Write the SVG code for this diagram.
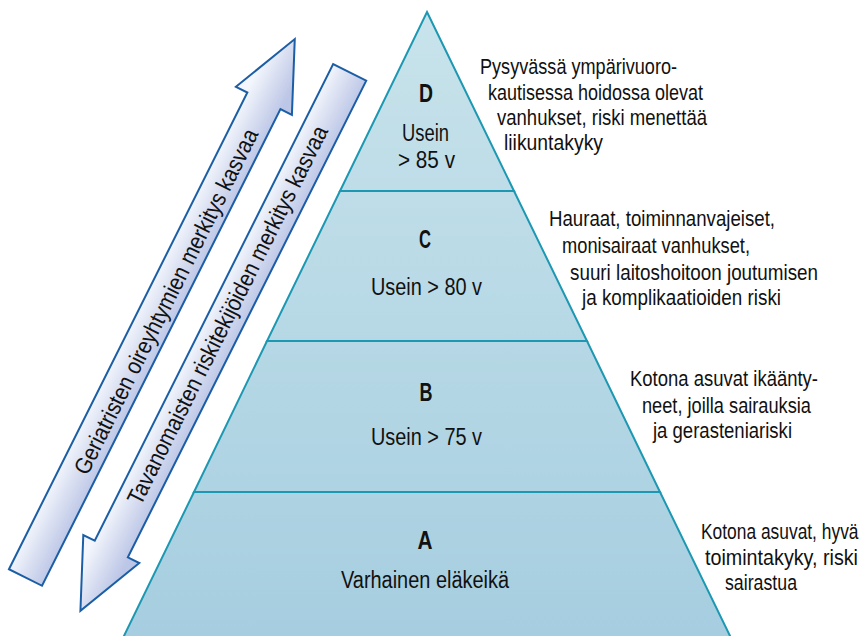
<svg xmlns="http://www.w3.org/2000/svg" width="866" height="636" viewBox="0 0 866 636">
<defs>
<linearGradient id="pyr" gradientUnits="userSpaceOnUse" x1="0" y1="12" x2="0" y2="636">
<stop offset="0" stop-color="#c8e3eb"/>
<stop offset="1" stop-color="#a6cee0"/>
</linearGradient>
<linearGradient id="arrUp" gradientUnits="userSpaceOnUse" x1="0" y1="-20" x2="0" y2="20">
<stop offset="0" stop-color="#f3f6fc"/>
<stop offset="1" stop-color="#bcc6e6"/>
</linearGradient>
<linearGradient id="arrDown" gradientUnits="userSpaceOnUse" x1="0" y1="20" x2="0" y2="-20">
<stop offset="0" stop-color="#f3f6fc"/>
<stop offset="1" stop-color="#bcc6e6"/>
</linearGradient>
<path id="bigArrow" d="M0,-18.5 L533,-18.5 L533,-31.3 L602,0 L533,31.3 L533,18.5 L0,18.5 Z"/>
</defs>
<style>
.lvl{fill:url(#pyr);stroke:#1d98b2;stroke-width:2;stroke-linejoin:miter}
.t{font-family:"Liberation Sans Narrow","Liberation Sans",Arial,sans-serif;font-size:22.5px;fill:#111}
.c{font-size:23px;text-anchor:middle}
.b{font-family:"Liberation Sans Narrow","Liberation Sans",Arial,sans-serif;font-size:25.5px;font-weight:bold;text-anchor:middle;fill:#111}
.arr{stroke:#1b5ea6;stroke-width:2;stroke-linejoin:miter}
.at{font-family:"Liberation Sans Narrow","Liberation Sans",Arial,sans-serif;font-size:23.5px;text-anchor:middle;fill:#111}
</style>

<g id="connectors">
<g id="arrow-geriatric">
<use href="#bigArrow" class="arr" fill="url(#arrUp)" transform="translate(25.5,577.5) rotate(-63.43)"/>
<text class="at" transform="translate(166,301.5) rotate(-63.43)" x="0" y="8" textLength="383" lengthAdjust="spacingAndGlyphs">Geriatristen oireyhtymien merkitys kasvaa</text>
</g>
<g id="arrow-risk">
<use href="#bigArrow" class="arr" fill="url(#arrDown)" transform="translate(349.7,72.3) rotate(116.57)"/>
<text class="at" transform="translate(227.5,315) rotate(-63.43)" x="0" y="8" textLength="420" lengthAdjust="spacingAndGlyphs">Tavanomaisten riskitekijöiden merkitys kasvaa</text>
</g>
</g>

<g id="level-A">
<polygon class="lvl" points="194,492 660,492 732,640 122,640"/>
<text class="b" x="425" y="549" textLength="15" lengthAdjust="spacingAndGlyphs">A</text>
<text class="t c" x="425" y="588" textLength="168" lengthAdjust="spacingAndGlyphs">Varhainen eläkeikä</text>
<text class="t" transform="matrix(0.75,0,0,1,701,539)" x="0" y="0" textLength="210" lengthAdjust="spacingAndGlyphs">Kotona asuvat, hyvä</text>
<text class="t" transform="matrix(0.75,0,0,1,705,564.5)" x="0" y="0" textLength="204" lengthAdjust="spacingAndGlyphs">toimintakyky, riski</text>
<text class="t" x="725" y="590" textLength="72" lengthAdjust="spacingAndGlyphs">sairastua</text>
</g>

<g id="level-B">
<polygon class="lvl" points="267,341 587,341 660,492 194,492"/>
<text class="b" x="426" y="401" textLength="13" lengthAdjust="spacingAndGlyphs">B</text>
<text class="t c" x="426.5" y="445" textLength="111" lengthAdjust="spacingAndGlyphs">Usein &gt; 75 v</text>
<text class="t" x="630" y="386" textLength="188" lengthAdjust="spacingAndGlyphs">Kotona asuvat ikäänty-</text>
<text class="t" x="642" y="413" textLength="169" lengthAdjust="spacingAndGlyphs">neet, joilla sairauksia</text>
<text class="t" x="653" y="438" textLength="139" lengthAdjust="spacingAndGlyphs">ja gerasteniariski</text>
</g>

<g id="level-C">
<polygon class="lvl" points="340,191 514,191 587,341 267,341"/>
<text class="b" x="425" y="248" textLength="12" lengthAdjust="spacingAndGlyphs">C</text>
<text class="t c" x="426.5" y="295" textLength="111" lengthAdjust="spacingAndGlyphs">Usein &gt; 80 v</text>
<text class="t" x="549" y="225.5" textLength="226" lengthAdjust="spacingAndGlyphs">Hauraat, toiminnanvajeiset,</text>
<text class="t" x="562" y="252.5" textLength="188" lengthAdjust="spacingAndGlyphs">monisairaat vanhukset,</text>
<text class="t" x="570" y="279.5" textLength="248" lengthAdjust="spacingAndGlyphs">suuri laitoshoitoon joutumisen</text>
<text class="t" x="582" y="305" textLength="199" lengthAdjust="spacingAndGlyphs">ja komplikaatioiden riski</text>
</g>

<g id="level-D">
<polygon class="lvl" points="427,12 514,191 340,191"/>
<text class="b" x="426" y="102" textLength="14" lengthAdjust="spacingAndGlyphs">D</text>
<text class="t c" x="425.5" y="141" textLength="47" lengthAdjust="spacingAndGlyphs">Usein</text>
<text class="t c" x="426.5" y="168" textLength="57" lengthAdjust="spacingAndGlyphs">&gt; 85 v</text>
<text class="t" x="480" y="74" textLength="197" lengthAdjust="spacingAndGlyphs">Pysyvässä ympärivuoro-</text>
<text class="t" x="488" y="100" textLength="215" lengthAdjust="spacingAndGlyphs">kautisessa hoidossa olevat</text>
<text class="t" x="497" y="125" textLength="210" lengthAdjust="spacingAndGlyphs">vanhukset, riski menettää</text>
<text class="t" x="504" y="150" textLength="99" lengthAdjust="spacingAndGlyphs">liikuntakyky</text>
</g>
</svg>
